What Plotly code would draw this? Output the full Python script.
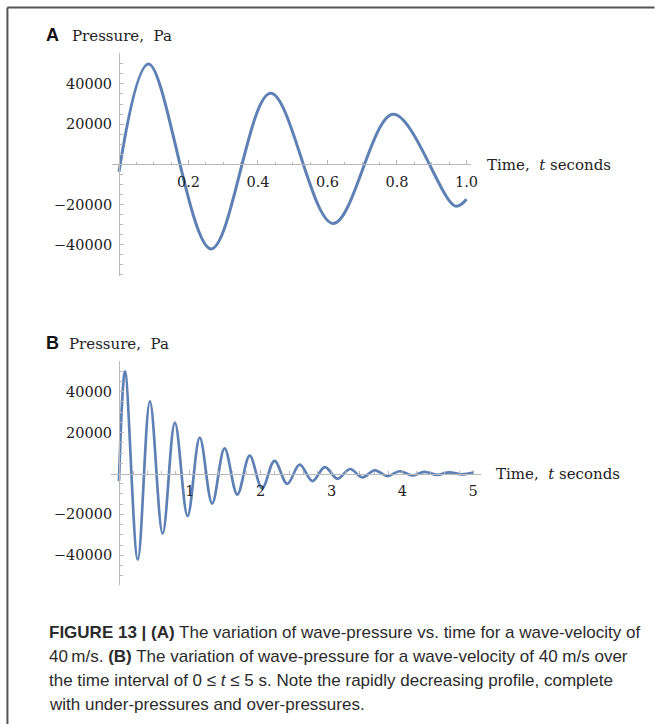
import plotly.graph_objects as go

# ---------------- data ----------------
# Panel A: pressure (Pa) vs time (s), extrema of the damped oscillation + end points
time_a = [0.0, 0.085, 0.265, 0.436, 0.616, 0.789, 0.968, 1.0]
pressure_a = [-3700, 49900, -42100, 35300, -29400, 24900, -20800, -17400]

# Panel B: same signal over 0..5 s
time_b = [0.0, 0.085, 0.265, 0.436, 0.616, 0.789, 0.968, 1.14, 1.315, 1.49,
          1.67, 1.845, 2.02, 2.195, 2.375, 2.55, 2.73, 2.905, 3.085, 3.26,
          3.435, 3.61, 3.79, 3.96, 4.14, 4.31, 4.49, 4.66, 4.84, 5.0]
pressure_b = [-3700, 49900, -42100, 35300, -29400, 24900, -20800, 17500, -14700, 12300,
              -10300, 8700, -7300, 6200, -5100, 4300, -3700, 3100, -2600, 2200,
              -1850, 1550, -1300, 1100, -920, 780, -650, 550, -460, 400]

xtick_vals_a = [0.2, 0.4, 0.6, 0.8, 1.0]
xtick_text_a = ["0.2", "0.4", "0.6", "0.8", "1.0"]
xtick_vals_b = [1, 2, 3, 4, 5]
xtick_text_b = ["1", "2", "3", "4", "5"]
ytick_vals = [-40000, -20000, 20000, 40000]
ytick_text = ["\u221240000", "\u221220000", "20000", "40000"]

caption_lines = [
    "<b>FIGURE 13 | (A)</b> The variation of wave-pressure vs. time for a wave-velocity of",
    "40\u2009m/s. <b>(B)</b> The variation of wave-pressure for a wave-velocity of 40 m/s over",
    "the time interval of 0 \u2264 <i>t</i> \u2264 5 s. Note the rapidly decreasing profile, complete",
    "with under-pressures and over-pressures.",
]

# ---------------- layout helpers ----------------
W, H = 655, 724
def px(x):
    return x / W
def py(y):
    return 1 - y / H

BLUE = "#5E81B5"
AXIS = "#b9b9b9"
SERIF = "DejaVu Serif"
TICKFONT = dict(family=SERIF, size=14.5, color="#222222")


def panel_axes(x0px, x1px, t1, left, right, zero_y, top, bot, px_per_20k):
    ppu_x = (x1px - x0px) / t1
    xr = [(left - x0px) / ppu_x, (right - x0px) / ppu_x]
    ppu_y = px_per_20k / 20000.0
    yr = [-(bot - zero_y) / ppu_y, (zero_y - top) / ppu_y]
    return xr, yr


A_xr, A_yr = panel_axes(120.3, 471.5, 1.0, 112.8, 476.2, 164.3, 53, 276, 40.2)
B_xr, B_yr = panel_axes(120.3, 478.3, 5.0, 112.0, 486.6, 473.5, 361, 585, 40.9)

fig = go.Figure()
fig.add_trace(go.Scatter(x=time_a, y=pressure_a, mode="lines",
                         line=dict(color=BLUE, width=3, shape="spline", smoothing=1.0),
                         xaxis="x", yaxis="y", hoverinfo="skip", showlegend=False))
fig.add_trace(go.Scatter(x=time_b, y=pressure_b, mode="lines",
                         line=dict(color=BLUE, width=2.7, shape="spline", smoothing=1.0),
                         xaxis="x2", yaxis="y2", hoverinfo="skip", showlegend=False))


def xaxis(left, right, rng, zero_y, vals, text, minor_vals):
    return dict(domain=[px(left), px(right)], range=rng, anchor="free", position=py(zero_y),
                showline=True, linecolor=AXIS, linewidth=1, showgrid=False, zeroline=False,
                ticks="inside", ticklen=4, tickwidth=1, tickcolor=AXIS,
                tickmode="array", tickvals=vals, ticktext=text, tickfont=TICKFONT,
                ticklabelstandoff=4,
                minor=dict(ticks="inside", ticklen=2.5, tickwidth=1, tickcolor=AXIS,
                           tickmode="array", tickvals=minor_vals, showgrid=False),
                fixedrange=True)


def yaxis(top, bot, rng, vals, text, minor_vals):
    return dict(domain=[py(bot), py(top)], range=rng, anchor="free", position=px(120.3),
                showline=True, linecolor=AXIS, linewidth=1, showgrid=False, zeroline=False,
                ticks="inside", ticklen=4, tickwidth=1, tickcolor=AXIS,
                tickmode="array", tickvals=vals, ticktext=text, tickfont=TICKFONT,
                ticklabelstandoff=4,
                minor=dict(ticks="inside", ticklen=2.5, tickwidth=1, tickcolor=AXIS,
                           tickmode="array", tickvals=minor_vals, showgrid=False),
                fixedrange=True)


minor_a = [round(0.05 * i, 3) for i in range(1, 21)]
minor_b = [round(0.2 * i, 3) for i in range(1, 26)]
minor_y = [5000 * i for i in range(-11, 12) if i != 0]

fig.update_layout(
    width=W, height=H, margin=dict(l=0, r=0, t=0, b=0),
    paper_bgcolor="white", plot_bgcolor="rgba(0,0,0,0)",
    xaxis=xaxis(112.8, 476.2, A_xr, 164.3, xtick_vals_a, xtick_text_a, minor_a),
    yaxis=yaxis(53, 276, A_yr, ytick_vals, ytick_text, minor_y),
    xaxis2=xaxis(112.0, 486.6, B_xr, 473.5, xtick_vals_b, xtick_text_b, minor_b),
    yaxis2=yaxis(361, 585, B_yr, ytick_vals, ytick_text, minor_y),
    showlegend=False,
)

ann = []
def text(x, y, s, font, xanchor="left"):
    ann.append(dict(x=px(x), y=py(y), xref="paper", yref="paper", text=s, showarrow=False,
                    xanchor=xanchor, yanchor="middle", font=font, align="left"))

label_font = dict(family=SERIF, size=15, color="#222222")
panel_font = dict(family="Liberation Sans", size=18, color="#111111")
text(44, 35, "<b>A</b>", panel_font)
text(71, 36, "Pressure,  Pa", label_font)
text(44, 343, "<b>B</b>", panel_font)
text(67.7, 344, "Pressure,  Pa", label_font)
text(490.5, 165, "Time,  <i>t</i> seconds", label_font)
text(499.5, 474, "Time,  <i>t</i> seconds", label_font)

cap_font = dict(family="Liberation Sans, Arial", size=17, color="#2b2b2b")
for i, line in enumerate(caption_lines):
    text(48, 632 + 24 * i, line, cap_font)

fig.update_layout(annotations=ann)

# frame lines (top and left)
fig.add_shape(type="line", xref="paper", yref="paper", x0=px(7.5), x1=1.01, y0=py(7.5), y1=py(7.5),
              line=dict(color="#555555", width=2))
fig.add_shape(type="line", xref="paper", yref="paper", x0=px(7.5), x1=px(7.5), y0=py(7.5), y1=-0.01,
              line=dict(color="#555555", width=2))

fig.write_html("out.html", include_plotlyjs=True, config=dict(displayModeBar=False))
